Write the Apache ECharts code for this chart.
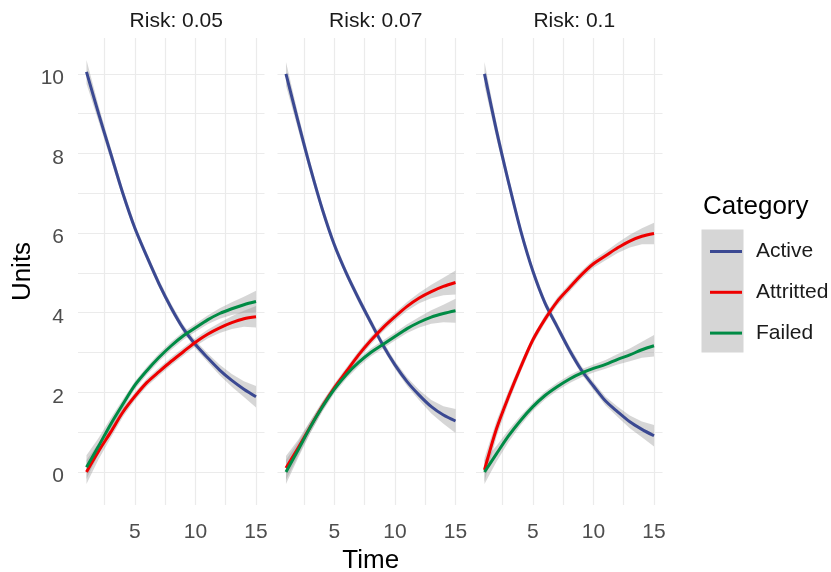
<!DOCTYPE html>
<html><head><meta charset="utf-8">
<script src="https://cdn.jsdelivr.net/npm/echarts@6/dist/echarts.min.js"></script>
<style>html,body{margin:0;padding:0;background:#fff}#c{width:831px;height:572px}</style>
</head><body><div id="c"></div>
<script>
const times = [1, 2, 3, 4, 5, 6, 7, 8, 9, 10, 11, 12, 13, 14, 15];
const facetTitles = ['Risk: 0.05', 'Risk: 0.07', 'Risk: 0.1'];
const categories = ['Active', 'Attritted', 'Failed'];
const xTickLabels = [5, 10, 15];
const yTickLabels = [0, 2, 4, 6, 8, 10];
const xGridValues = [2.5, 5, 7.5, 10, 12.5, 15];
const yGridValues = [0, 1, 2, 3, 4, 5, 6, 7, 8, 9, 10];

// Risk 0.05
const active005    = [10.05, 9.0, 8.0, 7.0, 6.12, 5.4, 4.72, 4.12, 3.6, 3.2, 2.87, 2.56, 2.3, 2.08, 1.89];
const attritted005 = [0.0, 0.52, 1.0, 1.5, 1.9, 2.25, 2.52, 2.78, 3.02, 3.26, 3.46, 3.62, 3.75, 3.85, 3.9];
const failed005    = [0.12, 0.65, 1.2, 1.7, 2.18, 2.55, 2.88, 3.17, 3.42, 3.62, 3.82, 3.98, 4.1, 4.2, 4.28];
const band005      = [0.3, 0.2, 0.15, 0.12, 0.1, 0.1, 0.1, 0.1, 0.1, 0.1, 0.11, 0.13, 0.16, 0.2, 0.27];
// Risk 0.07
const active007    = [10.0, 8.8, 7.65, 6.6, 5.7, 4.98, 4.35, 3.76, 3.19, 2.69, 2.27, 1.93, 1.64, 1.43, 1.28];
const attritted007 = [0.1, 0.6, 1.13, 1.65, 2.12, 2.53, 2.94, 3.3, 3.62, 3.9, 4.16, 4.37, 4.53, 4.66, 4.76];
const failed007    = [0.0, 0.55, 1.12, 1.63, 2.08, 2.45, 2.75, 3.0, 3.2, 3.4, 3.6, 3.76, 3.89, 3.98, 4.05];
const band007      = [0.3, 0.2, 0.15, 0.12, 0.1, 0.1, 0.1, 0.1, 0.1, 0.1, 0.11, 0.13, 0.17, 0.22, 0.3];
// Risk 0.1
const active010    = [10.0, 8.56, 7.26, 6.05, 5.04, 4.24, 3.65, 3.07, 2.56, 2.16, 1.78, 1.51, 1.26, 1.07, 0.91];
const attritted010 = [0.05, 1.09, 1.9, 2.64, 3.32, 3.84, 4.28, 4.62, 4.95, 5.23, 5.43, 5.63, 5.8, 5.92, 5.99];
const failed010    = [0.0, 0.46, 0.91, 1.3, 1.64, 1.92, 2.14, 2.33, 2.48, 2.6, 2.7, 2.83, 2.94, 3.07, 3.17];
const band010      = [0.3, 0.2, 0.15, 0.12, 0.1, 0.1, 0.1, 0.1, 0.1, 0.1, 0.11, 0.13, 0.16, 0.2, 0.27];

const facetData = [
  { values: [active005, attritted005, failed005], band: band005 },
  { values: [active007, attritted007, failed007], band: band007 },
  { values: [active010, attritted010, failed010], band: band010 }
];
const colors = ['#3B4992', '#EE0000', '#008B45'];

const FONT = '"Liberation Sans", Arial, sans-serif';
const gridLefts = [78, 277.5, 476];
const gridW = 186.5, gridTop = 38, gridH = 467;
const X_MIN = 0.3, X_MAX = 15.7, Y_MIN = -0.83, Y_MAX = 10.9;

const grids = [], xAxes = [], yAxes = [], series = [], titles = [];
facetData.forEach((f, i) => {
  grids.push({ left: gridLefts[i], top: gridTop, width: gridW, height: gridH, containLabel: false, outerBoundsMode: 'none' });
  xAxes.push({
    type: 'value', gridIndex: i, min: X_MIN, max: X_MAX,
    axisLine: { show: false }, axisTick: { show: false }, splitLine: { show: false },
    axisLabel: { customValues: xTickLabels, color: '#4d4d4d', fontSize: 21, fontFamily: FONT, margin: 17 },
    name: i === 1 ? 'Time' : '', nameLocation: 'middle', nameGap: 37,
    nameTextStyle: { fontSize: 26, fontFamily: FONT, color: '#000' }
  });
  yAxes.push({
    type: 'value', gridIndex: i, min: Y_MIN, max: Y_MAX,
    axisLine: { show: false }, axisTick: { show: false }, splitLine: { show: false },
    axisLabel: { show: i === 0, customValues: yTickLabels, color: '#4d4d4d', fontSize: 21, fontFamily: FONT, margin: 14, verticalAlign: 'top', lineHeight: 9 },
    name: i === 0 ? 'Units' : '', nameLocation: 'middle', nameGap: 42, nameRotate: 90,
    nameTextStyle: { fontSize: 26, fontFamily: FONT, color: '#000' }
  });
  titles.push({
    text: facetTitles[i], left: gridLefts[i] + gridW / 2, top: 6, textAlign: 'center',
    textStyle: { fontSize: 21, fontWeight: 'normal', fontFamily: FONT, color: '#1a1a1a' }
  });
  // gridlines carried by an invisible series
  series.push({
    type: 'line', name: 'grid' + i, xAxisIndex: i, yAxisIndex: i, z: 1,
    data: times.map((t, k) => [t, f.values[0][k]]), symbol: 'none',
    lineStyle: { opacity: 0 }, silent: true, legendHoverLink: false,
    markLine: {
      silent: true, symbol: 'none', z: 1, animation: false,
      label: { show: false }, emphasis: { disabled: true },
      lineStyle: { color: '#ebebeb', width: 1.2, type: 'solid' },
      data: xGridValues.map(v => ({ xAxis: v })).concat(yGridValues.map(v => ({ yAxis: v })))
    }
  });
  // confidence ribbons
  f.values.forEach((vals, c) => {
    series.push({
      type: 'custom', name: 'band' + i + '_' + c, xAxisIndex: i, yAxisIndex: i, z: 2, silent: true,
      data: times.map((t, k) => [t, vals[k] - f.band[k], vals[k] + f.band[k]]),
      encode: { x: 0, y: [1, 2] },
      renderItem: function (params, api) {
        if (params.dataIndex !== 0) return null;
        const lower = times.map((t, k) => api.coord([t, vals[k] - f.band[k]]));
        const upper = times.map((t, k) => api.coord([t, vals[k] + f.band[k]])).reverse();
        return {
          type: 'polygon', shape: { points: lower.concat(upper) },
          style: { fill: 'rgba(153,153,153,0.4)' }
        };
      }
    });
  });
  f.values.forEach((vals, c) => {
    series.push({
      type: 'line', name: categories[c], xAxisIndex: i, yAxisIndex: i, z: 3,
      smooth: 0.3, symbol: 'none', color: colors[c],
      lineStyle: { color: colors[c], width: 3 },
      data: times.map((t, k) => [t, vals[k]])
    });
  });
});

const chart = echarts.init(document.getElementById('c'), null, { renderer: 'canvas' });
chart.setOption({
  backgroundColor: '#ffffff',
  animation: false,
  title: titles,
  grid: grids, xAxis: xAxes, yAxis: yAxes,
  legend: {
    data: categories.map((n, c) => ({ name: n, icon: 'rect', itemStyle: { color: colors[c] } })),
    orient: 'vertical', left: 705, top: 236, itemWidth: 32, itemHeight: 3, itemGap: 19.8,
    textStyle: { fontSize: 21, fontFamily: FONT, color: '#1a1a1a', padding: [0, 0, 0, 9] },
    selectedMode: false
  },
  graphic: [
    { type: 'rect', left: 701.5, top: 229.5, shape: { width: 42, height: 123 }, style: { fill: '#d6d6d6' }, z: -1, silent: true },
    { type: 'text', left: 703, top: 194, style: { text: 'Category', fontSize: 26, fontFamily: FONT, fill: '#000' } }
  ],
  series: series
});
</script></body></html>
